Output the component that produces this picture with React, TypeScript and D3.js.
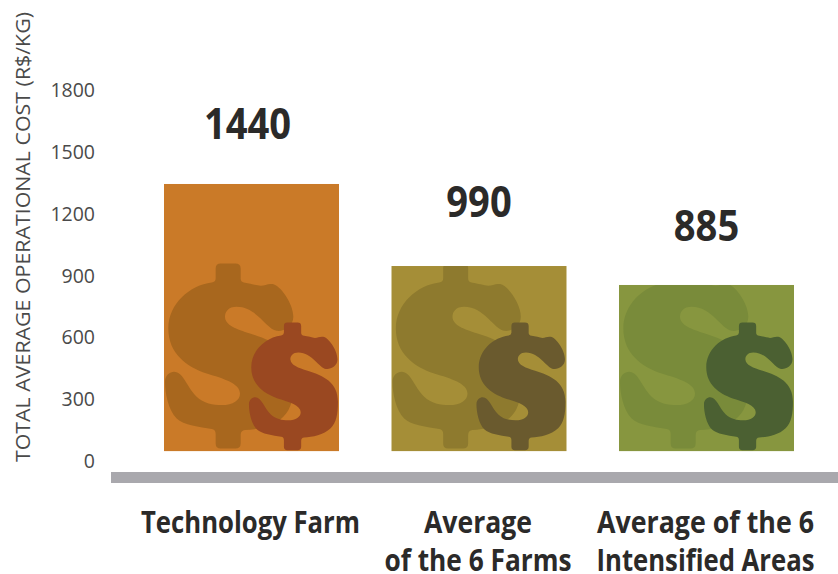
import React from "react";
import * as d3 from "d3";

const categories = ["Technology Farm", "Average of the 6 Farms", "Average of the 6 Intensified Areas"];
const categoryLines = [["Technology Farm"], ["Average", "of the 6 Farms"], ["Average of the 6", "Intensified Areas"]];
const lineWidths = [[219], [108, 187], [217, 218]];
const valueLabels = [1440, 990, 885];
const drawnTops = [1344, 946, 854];
const drawnBase = 48;
const yTicks = [0, 300, 600, 900, 1200, 1500, 1800];
const barColors = ["#CA7A28", "#A58E37", "#87963F"];
const bigColors = ["#A8671E", "#8E7A2E", "#798B3A"];
const smallColors = ["#9A4821", "#6A5A2E", "#4B6032"];

const DOLLAR =
  "M197,295 Q197,280 212,280 L256,280 Q272,280 272,295 L272,325 Q272,336 285,338 C300,340 320,346 332,347 C345,347 352,340 368,342 C390,345 430,400 430,440 C430,470 400,485 380,482 C350,478 320,410 260,410 C235,410 225,425 225,440 C225,465 260,478 300,490 C370,512 432,540 432,625 C432,680 425,715 400,740 C370,770 320,778 285,780 Q272,781 272,795 L272,820 Q272,835 256,835 L212,835 Q197,835 197,820 L197,792 Q197,778 185,777 C150,770 100,765 80,745 C55,720 45,670 45,635 C45,615 60,605 72,605 C100,605 110,650 140,680 C160,700 190,705 215,705 C250,705 270,690 270,670 C270,640 220,625 170,610 C110,590 55,550 55,475 C55,400 120,345 185,337 Q197,335 197,325 Z";

const x = d3.scaleBand<string>().domain(categories).range([164, 794]).paddingInner(0.2308).paddingOuter(0);
const y = d3.scaleLinear().domain([0, 1800]).range([461, 90]);
const FONT = "'Open Sans', sans-serif";
const valueBaselines = [139, 217, 241];

export default function App() {
  return (
    <svg width={838} height={574} style={{ position: "absolute", left: 0, top: 0, background: "#fff" }} fontFamily={FONT}>
      <defs>
        {categories.map((c, i) => (
          <clipPath id={`clip${i}`} key={c}>
            <rect x={x(c)} y={y(drawnTops[i])} width={x.bandwidth()} height={y(drawnBase) - y(drawnTops[i])} />
          </clipPath>
        ))}
      </defs>
      <text transform="translate(30,237) rotate(-90)" textAnchor="middle" fontSize={20.5} fill="#4A4A4A" textLength={450} lengthAdjust="spacingAndGlyphs">
        TOTAL AVERAGE OPERATIONAL COST (R$/KG)
      </text>
      {yTicks.map((t) => (
        <text key={t} x={95} y={y(t) + 7} textAnchor="end" fontSize={19.5} fill="#4A4A4A">
          {t}
        </text>
      ))}
      {categories.map((c, i) => {
        const x0 = x(c) as number;
        const base = y(drawnBase);
        return (
          <g key={c}>
            <rect x={x0} y={y(drawnTops[i])} width={x.bandwidth()} height={base - y(drawnTops[i])} fill={barColors[i]} />
            <g clipPath={`url(#clip${i})`}>
              <path d={DOLLAR} fill={bigColors[i]} transform={`translate(${x0 - 14},${base - 281}) scale(0.3333)`} />
              <path d={DOLLAR} fill={smallColors[i]} transform={`translate(${x0 + 74.6},${base - 193}) scale(0.23)`} />
            </g>
            <text x={x0 + x.bandwidth() / 2 - (i === 0 ? 4 : 0)} y={valueBaselines[i]} textAnchor="middle" fontSize={43} fontWeight={700} fill="#2B2A29"
              textLength={String(valueLabels[i]).length * 21.8} lengthAdjust="spacingAndGlyphs">
              {valueLabels[i]}
            </text>
            {categoryLines[i].map((l, j) => (
              <text key={l} x={x0 + x.bandwidth() / 2 - 1} y={533 + j * 38} textAnchor="middle" fontSize={30} fontWeight={700} fill="#2B2A29"
                textLength={lineWidths[i][j]} lengthAdjust="spacingAndGlyphs">
                {l}
              </text>
            ))}
          </g>
        );
      })}
      <rect x={111} y={472} width={727} height={11} fill="#A9A8AD" />
    </svg>
  );
}
